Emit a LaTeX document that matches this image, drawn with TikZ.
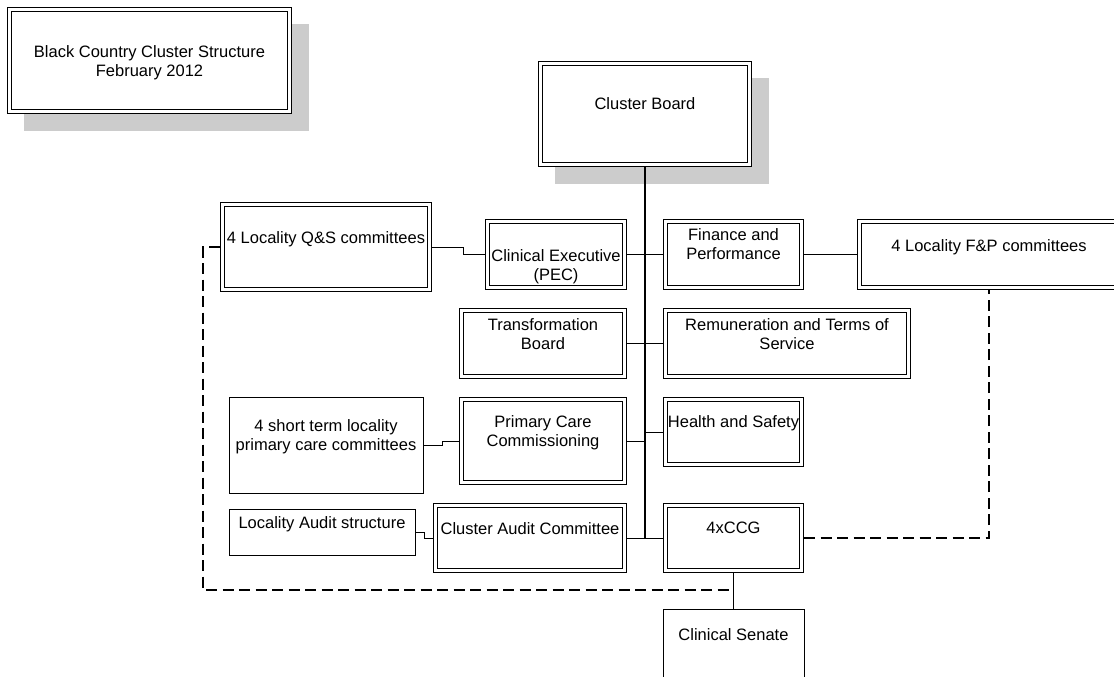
\documentclass[tikz,border=0pt]{standalone}
\usepackage{fontspec}
\setmainfont{Liberation Sans}
\usetikzlibrary{backgrounds}
\definecolor{shadegray}{gray}{0.8}
\begin{document}
\begin{tikzpicture}[x=1pt,y=-1pt,
  dbox/.style={draw, double, line width=1.1pt, double distance=2.8pt, fill=white, inner sep=0pt, outer sep=2.5pt},
  sbox/.style={draw, line width=0.9pt, fill=white, inner sep=0pt, outer sep=0.45pt},
  txt/.style={font=\fontsize{16.5}{19.3}\selectfont, align=center, inner sep=0pt, anchor=north},
  conn/.style={line width=1pt},
  trunkline/.style={line width=1.7pt},
  dashconn/.style={line width=1.2pt, dash pattern=on 11pt off 5.5pt}]
\useasboundingbox (0,0) rectangle (1114,677);
\clip (0,0) rectangle (1114,677);
% boxes
\node[dbox, minimum width=280pt, minimum height=102pt] (title) at (149.5,60.5) {};
\node[dbox, minimum width=209pt, minimum height=101pt] (cb) at (645,114) {};
\node[dbox, minimum width=207pt, minimum height=85pt] (qs) at (326,247) {};
\node[dbox, minimum width=137pt, minimum height=66pt] (pec) at (556,254.5) {};
\node[dbox, minimum width=136pt, minimum height=66pt] (fp) at (733.5,254.5) {};
\node[dbox, minimum width=259pt, minimum height=66pt] (fpc) at (989,254.5) {};
\node[dbox, minimum width=163pt, minimum height=66pt] (tb) at (543,343.5) {};
\node[dbox, minimum width=243pt, minimum height=66pt] (rem) at (787,343.5) {};
\node[sbox, minimum width=194pt, minimum height=96pt] (st) at (326,445) {};
\node[dbox, minimum width=163pt, minimum height=83pt] (pcc) at (543,441) {};
\node[dbox, minimum width=136pt, minimum height=65pt] (hs) at (733.5,432) {};
\node[sbox, minimum width=186pt, minimum height=46pt] (la) at (322,532) {};
\node[dbox, minimum width=189pt, minimum height=65pt] (cac) at (530,538) {};
\node[dbox, minimum width=136pt, minimum height=65pt] (ccg) at (733.5,538) {};
\node[sbox, minimum width=141pt, minimum height=131pt] (cs) at (733.5,674.5) {};
% shadows
\begin{scope}[on background layer]
  \fill[shadegray] ([shift={(17,17)}]title.south west) rectangle ([shift={(17,17)}]title.north east);
  \fill[shadegray] ([shift={(17,17)}]cb.south west) rectangle ([shift={(17,17)}]cb.north east);
\end{scope}
% texts
\node[txt] (t-title) at (149.5,45) {Black Country Cluster Structure\\February 2012};
\node[txt] (t-cb) at (645,97) {Cluster Board};
\node[txt] (t-qs) at (326,231) {4 Locality Q\&S committees};
\node[txt] (t-pec) at (556,249) {Clinical Executive\\(PEC)};
\node[txt] (t-fp) at (733.5,228) {Finance and\\Performance};
\node[txt] (t-fpc) at (989,239) {4 Locality F\&P committees};
\node[txt] (t-tb) at (543,318) {Transformation\\Board};
\node[txt] (t-rem) at (787,318) {Remuneration and Terms of\\Service};
\node[txt] (t-st) at (326,419) {4 short term locality\\primary care committees};
\node[txt] (t-pcc) at (543,415) {Primary Care\\Commissioning};
\node[txt] (t-hs) at (733.5,415) {Health and Safety};
\node[txt] (t-la) at (322,516) {Locality Audit structure};
\node[txt] (t-cac) at (530,522) {Cluster Audit Committee};
\node[txt] (t-ccg) at (733.5,522) {4xCCG};
\node[txt] (t-cs) at (733.5,628) {Clinical Senate};
% connectors
\coordinate (trunkend) at (cb.south |- ccg.west);
\draw[trunkline] (cb.south) -- (trunkend);
\draw[conn] (pec.east) -- (fp.west);
\draw[conn] (fp.east) -- (fpc.west);
\draw[conn] (qs.east) -- ++(31,0) |- (pec.west);
\draw[conn] (tb.east) -- (rem.west);
\draw[conn] (pcc.east) -- (pcc.east -| cb.south);
\draw[conn] (hs.west) -- (hs.west -| cb.south);
\draw[conn] (st.east) -- ++(19,0) |- (pcc.west);
\draw[conn] (la.east) -- ++(9,0) |- (cac.west);
\draw[conn] (cac.east) -- (ccg.west);
\draw[conn] (ccg.south) -- (cs.north);
\coordinate (join) at (733.5,590);
\draw[dashconn] (ccg.east) -| (fpc.south);
\draw[dashconn] (qs.west) -- ++(-17,0) |- (join);
\end{tikzpicture}
\end{document}
